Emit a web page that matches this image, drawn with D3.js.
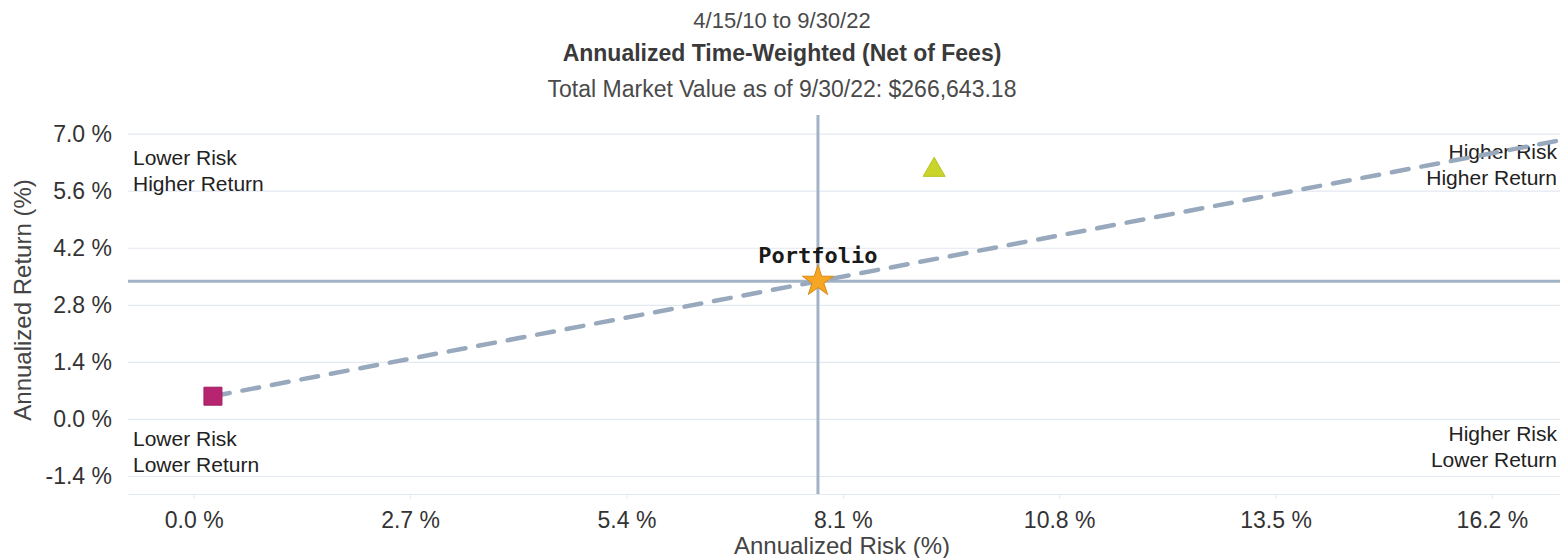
<!DOCTYPE html>
<html>
<head>
<meta charset="utf-8">
<script src="https://cdn.jsdelivr.net/npm/d3@7"></script>
<style>
  body { margin: 0; background: #fff; }
  svg { display: block; font-family: "Liberation Sans", Arial, sans-serif; }
</style>
</head>
<body>
<svg id="chart" width="1560" height="558"></svg>
<script>
// chart values
const titleLines = ["4/15/10 to 9/30/22", "Annualized Time-Weighted (Net of Fees)", "Total Market Value as of 9/30/22: $266,643.18"];
const xTicks = [0, 2.7, 5.4, 8.1, 10.8, 13.5, 16.2];
const yTicks = [-1.4, 0, 1.4, 2.8, 4.2, 5.6, 7.0];
const pointNames = ["Portfolio", "Cash", "Benchmark"];
const pointRisk = [7.79, 0.24, 9.24];
const pointReturn = [3.39, 0.57, 6.12];
const quadrantLabels = [
  ["Lower Risk", "Higher Return"],
  ["Higher Risk", "Higher Return"],
  ["Lower Risk", "Lower Return"],
  ["Higher Risk", "Lower Return"]
];

const plot = {left: 128, right: 1560, top: 115, bottom: 494};

const svg = d3.select('#chart');

const x = d3.scaleLinear().domain([-0.82, 17.05]).range([plot.left, plot.right]);
const y = d3.scaleLinear().domain([-1.83, 7.47]).range([plot.bottom, plot.top]);
// plain hyphen for negatives, like the original
const fmt = d => d3.format('.1f')(d).replace('\u2212', '-') + ' %';

// titles
svg.selectAll('.title')
  .data(titleLines)
  .enter().append('text')
  .attr('class', 'title')
  .attr('x', 782)
  .attr('y', (d, i) => [28, 61, 97][i])
  .attr('text-anchor', 'middle')
  .attr('font-size', (d, i) => i == 0 ? 22 : 23)
  .attr('font-weight', (d, i) => i == 1 ? 'bold' : 'normal')
  .attr('fill', (d, i) => i == 1 ? '#3a3a3a' : '#4a4a4a')
  .text(d => d);

// horizontal grid
svg.append('g')
  .selectAll('line')
  .data(yTicks)
  .enter().append('line')
  .attr('x1', plot.left).attr('x2', plot.right)
  .attr('y1', d => y(d)).attr('y2', d => y(d))
  .attr('stroke', '#e3e9f1')
  .attr('stroke-width', 1.2);

// y tick labels
svg.append('g')
  .selectAll('text')
  .data(yTicks)
  .enter().append('text')
  .attr('x', 112)
  .attr('y', d => y(d) + 8)
  .attr('text-anchor', 'end')
  .attr('font-size', 23)
  .attr('fill', '#333')
  .text(fmt);

// x axis
const xAxis = svg.append('g')
  .attr('transform', `translate(0,${plot.bottom})`)
  .call(d3.axisBottom(x).tickValues(xTicks).tickFormat(fmt).tickSize(5).tickSizeOuter(0));
xAxis.select('.domain').attr('stroke', '#e3e9f1').attr('stroke-width', 1.2);
xAxis.selectAll('.tick line').attr('stroke', '#e3e9f1');
xAxis.selectAll('.tick text')
  .attr('font-size', 23)
  .attr('font-family', '"Liberation Sans", Arial, sans-serif')
  .attr('fill', '#333')
  .attr('dy', 0)
  .attr('y', 34);

// axis titles
svg.append('text')
  .attr('x', 842).attr('y', 554)
  .attr('text-anchor', 'middle')
  .attr('font-size', 24)
  .attr('fill', '#444')
  .text('Annualized Risk (%)');
svg.append('text')
  .attr('transform', 'translate(31,300) rotate(-90)')
  .attr('text-anchor', 'middle')
  .attr('font-size', 24)
  .attr('fill', '#444')
  .text('Annualized Return (%)');

// quadrant labels
const quadPos = [
  {x: 133, y: 165, anchor: 'start'},
  {x: 1557, y: 159, anchor: 'end'},
  {x: 133, y: 446, anchor: 'start'},
  {x: 1557, y: 441, anchor: 'end'}
];
quadrantLabels.forEach(function(lines, i) {
  const p = quadPos[i];
  const t = svg.append('text')
    .attr('x', p.x).attr('y', p.y)
    .attr('text-anchor', p.anchor)
    .attr('font-size', 21)
    .attr('fill', '#222');
  lines.forEach(function(l, j) {
    t.append('tspan').attr('x', p.x).attr('dy', j == 0 ? 0 : 26).text(l);
  });
});

// portfolio crosshair
const pR = pointRisk[0], pY = pointReturn[0];
svg.append('line')
  .attr('x1', plot.left).attr('x2', plot.right)
  .attr('y1', y(pY)).attr('y2', y(pY))
  .attr('stroke', '#a3b3c6').attr('stroke-width', 3);
svg.append('line')
  .attr('x1', x(pR)).attr('x2', x(pR))
  .attr('y1', plot.top).attr('y2', plot.bottom)
  .attr('stroke', '#a3b3c6').attr('stroke-width', 3);

// dashed line from cash through portfolio to the right edge
const slope = (pY - pointReturn[1]) / (pR - pointRisk[1]);
const xEnd = x.domain()[1];
svg.append('line')
  .attr('x1', x(pointRisk[1])).attr('y1', y(pointReturn[1]))
  .attr('x2', x(xEnd)).attr('y2', y(pointReturn[1] + slope * (xEnd - pointRisk[1])))
  .attr('stroke', '#98a9be')
  .attr('stroke-width', 4.5)
  .attr('stroke-linecap', 'round')
  .attr('stroke-dasharray', '17,13');

// markers
const symbols = [d3.symbolStar, d3.symbolSquare, d3.symbolTriangle];
const sizes = [300, 324, 210];
const fills = ['#f6a623', '#b7246f', '#c9d52b'];
const strokes = ['#d98a10', '#a01d60', '#b8c420'];
svg.append('g')
  .selectAll('path')
  .data(pointNames)
  .enter().append('path')
  .attr('transform', (d, i) => `translate(${x(pointRisk[i])},${y(pointReturn[i])})`)
  .attr('d', (d, i) => d3.symbol().type(symbols[i]).size(sizes[i])())
  .attr('fill', (d, i) => fills[i])
  .attr('stroke', (d, i) => strokes[i])
  .attr('stroke-width', 1);

// portfolio label
svg.append('text')
  .attr('x', x(pR)).attr('y', y(pY) - 18)
  .attr('text-anchor', 'middle')
  .attr('font-family', '"DejaVu Sans Mono", monospace')
  .attr('font-weight', 'bold')
  .attr('font-size', 22)
  .attr('fill', '#1a1a1a')
  .text(pointNames[0]);
</script>
</body>
</html>
